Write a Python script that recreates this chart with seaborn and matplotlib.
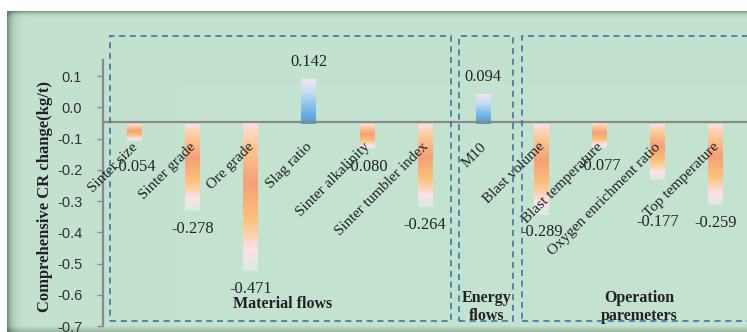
import numpy as np
import pandas as pd
import matplotlib
matplotlib.use("Agg")
import matplotlib.pyplot as plt
import seaborn as sns
from matplotlib.colors import LinearSegmentedColormap
from matplotlib.patches import Rectangle

# ---------------- data ----------------
categories = ["Sinter size", "Sinter grade", "Ore grade", "Slag ratio",
              "Sinter alkalinity", "Sinter tumbler index", "M10",
              "Blast volume", "Blast temperature", "Oxygen enrichment ratio",
              "Top temperature"]
cr_change = [-0.054, -0.278, -0.471, 0.142, -0.080, -0.264, 0.094,
             -0.289, -0.077, -0.177, -0.259]
value_labels = ["-0.054", "-0.278", "-0.471", "0.142", "-0.080", "-0.264",
                "0.094", "-0.289", "-0.077", "-0.177", "-0.259"]
ytick_values = [0.1, 0.0, -0.1, -0.2, -0.3, -0.4, -0.5, -0.6, -0.7]
group_names = ["Material flows", "Energy\nflows", "Operation\nparemeters"]

# ---------------- style ----------------
sns.set_theme(style="white")
SERIF = ["Liberation Serif", "DejaVu Serif"]
SANS = ["Liberation Sans", "DejaVu Sans"]
plt.rcParams["font.family"] = SERIF

W, H = 747, 332
fig = plt.figure(figsize=(W / 100, H / 100), dpi=100)
fig.patch.set_facecolor("white")

# panel background with shaded frame edges
green = np.array([195, 226, 207]) / 255.0
dark = np.array([70, 100, 75]) / 255.0
bg = np.ones((H, W, 3))
cols = np.arange(W)
rows = np.arange(H)
dl = np.where(cols >= 7, 0.65 * np.exp(-(cols - 7) / 4.5), 0.0)
dt = np.where(rows >= 11, 0.55 * np.exp(-(rows - 11) / 2.0), 0.0)
db = np.clip((rows - 325) / 7.0, 0, 1) * 0.35
d = np.clip(dl[None, :] + dt[:, None] + db[:, None], 0, 0.8)
panel = green[None, None, :] * (1 - d[..., None]) + dark[None, None, :] * d[..., None]
bg[11:, 7:, :] = panel[11:, 7:, :]
fig.figimage(bg, xo=0, yo=0, origin="upper", zorder=-10)

# axes: y from -0.7 (px 326) to 0.152 (px 60)
ax = fig.add_axes([103 / W, (H - 326) / H, 1 - 103 / W, (326 - 60) / H])
ax.set_zorder(2)
ax.patch.set_alpha(0)

BASE = -0.054
df = pd.DataFrame({"category": categories, "change": cr_change})
sns.barplot(data=df, x="category", y="change", ax=ax, width=0.25,
            bottom=BASE, color="#f6a47b", errorbar=None, zorder=2)

neg_cmap = LinearSegmentedColormap.from_list("neg", [
    (0.00, "#fce0e0"), (0.16, "#fdc793"), (0.40, "#f5a078"),
    (0.66, "#fec27a"), (0.86, "#fbe2ea"), (1.00, "#d9ebdf")])
pos_cmap = LinearSegmentedColormap.from_list("pos", [
    (0.00, "#f7e4ee"), (0.30, "#c4dcf1"), (0.60, "#85c1ec"),
    (1.00, "#4a9ad8")])

grad = np.linspace(0, 1, 256).reshape(-1, 1)
for p, v in zip(ax.patches, cr_change):
    x0, w = p.get_x(), p.get_width()
    y0, h = p.get_y(), p.get_height()
    lo, hi = min(y0, y0 + h), max(y0, y0 + h)
    ax.imshow(grad, cmap=neg_cmap if v < 0 else pos_cmap,
              extent=[x0, x0 + w, lo, hi], origin="upper", aspect="auto",
              interpolation="bilinear", zorder=2)
    p.set_facecolor("none")
    p.set_edgecolor("none")

# horizontal crossing line
ax.axhline(-0.045, color="#8a8a8a", lw=1.6, zorder=3)

# category labels (rotated) and value labels
label_shift = {"Sinter size": -0.025, "Oxygen enrichment ratio": -0.08}
for i, (cat, v, lab) in enumerate(zip(categories, cr_change, value_labels)):
    ax.text(i + 0.1, -0.105, cat, rotation=45, ha="right", va="top",
            fontsize=11, color="#222222", zorder=4)
    end = BASE + v
    if v < 0:
        ly = end - 0.057 + label_shift.get(cat, 0.0)
    else:
        ly = end + 0.057
    ax.text(i, ly, lab, ha="center", va="center", fontsize=11.8,
            color="#222222", zorder=4)

ax.set_xlim(-0.54, 10.54)
ax.set_ylim(-0.7, 0.152)
ax.set_xlabel("")
ax.set_ylabel("")
ax.tick_params(axis="x", bottom=False, labelbottom=False)
ax.set_yticks(ytick_values)
ax.set_yticklabels([f"{t:.1f}" for t in ytick_values], fontfamily=SANS,
                   fontsize=10.5, color="#333333")
ax.tick_params(axis="y", left=True, length=4, width=1, color="#8a8a8a",
               pad=11)
for s in ["top", "right", "bottom"]:
    ax.spines[s].set_visible(False)
ax.spines["left"].set_color("#8a8a8a")
ax.spines["left"].set_linewidth(1.6)
ax.grid(False)

# y-axis title
fig.text(45 / W, 1 - 196 / H, "Comprehensive CR change(kg/t)", rotation=90,
         ha="center", va="center", fontsize=12, fontweight="bold",
         color="#222222")

# dashed group boxes
box_color = "#2f6ea5"
boxes = [(110, 451), (459, 513), (522, 760)]
for (xa, xb) in boxes:
    r = Rectangle((xa / W, 1 - 321 / H), (xb - xa) / W, (321 - 36) / H,
                  fill=False, ec=box_color, lw=1.1, ls=(0, (4, 3)),
                  transform=fig.transFigure, zorder=5)
    fig.add_artist(r)

# group names
group_pos = [(283, 304), (487, 307), (639, 307)]
for name, (gx, gy) in zip(group_names, group_pos):
    fig.text(gx / W, 1 - gy / H, name, ha="center", va="center",
             fontsize=11.5, fontweight="bold", color="#222222",
             linespacing=1.15)

fig.savefig("out.png", dpi=100)
